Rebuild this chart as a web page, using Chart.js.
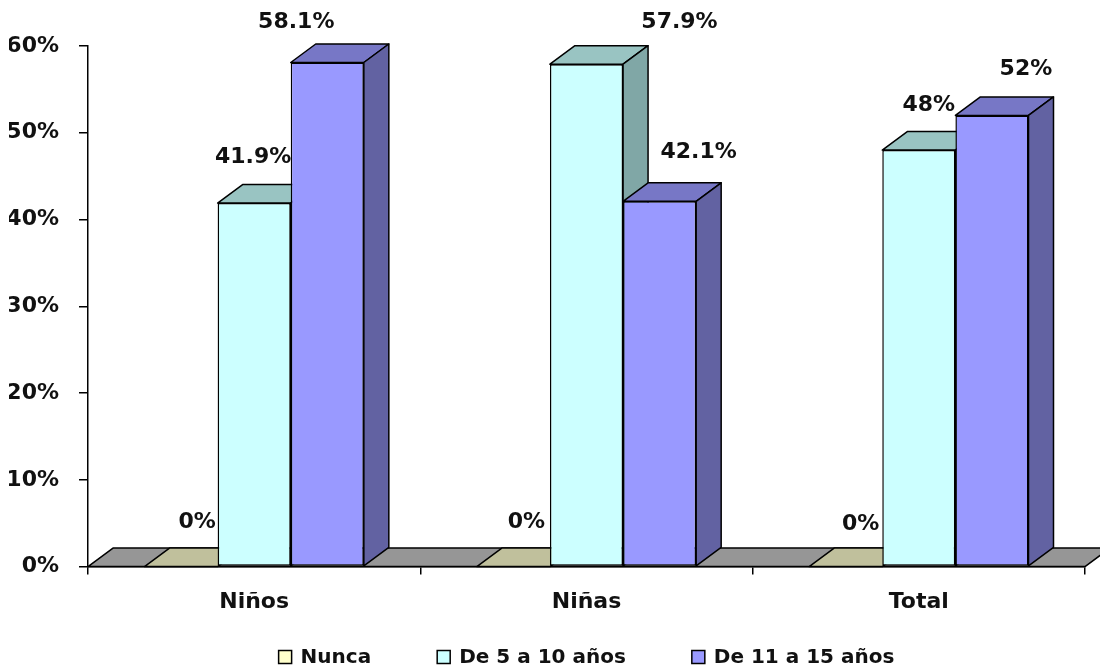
<!DOCTYPE html>
<html>
<head>
<meta charset="utf-8">
<script src="https://cdn.jsdelivr.net/npm/chart.js@4.4.0/dist/chart.umd.min.js"></script>
<style>
html, body { margin: 0; padding: 0; background: #fff; }
#wrap { width: 1100px; height: 671px; }
</style>
</head>
<body>
<div id="wrap"><canvas id="chart"></canvas></div>
<script>
var categories = ['Niños', 'Niñas', 'Total'];
var seriesNames = ['Nunca', 'De 5 a 10 años', 'De 11 a 15 años'];
var nunca = [0, 0, 0];
var de5a10 = [41.9, 57.9, 48];
var de11a15 = [58.1, 42.1, 52];
var yTicks = [0, 10, 20, 30, 40, 50, 60];

// the value labels were dragged around by hand in the original, so nudge them (dx, dy from bar top)
var labelNudge = [
    [[16, -44], [13, -44], [15, -42]],
    [[-1, -46], [93, -42], [10, -45]],
    [[-31, -40], [39, -49], [34, -46]]
];

var frontColors = ['#FFFFCC', '#CCFFFF', '#9999FF'];
var topColors = ['#C0C09C', '#99C4C2', '#7777C6'];
var sideColors = ['#9E9E80', '#80A7A6', '#6262A2'];
var floorColor = '#969696';
var depthX = 25, depthY = -18.5;
var fontFam = '"DejaVu Sans", sans-serif';

function poly(ctx, pts, fill) {
    ctx.beginPath();
    ctx.moveTo(pts[0][0], pts[0][1]);
    for (var i = 1; i < pts.length; i++) ctx.lineTo(pts[i][0], pts[i][1]);
    ctx.closePath();
    ctx.fillStyle = fill;
    ctx.fill();
    ctx.stroke();
}

var box3d = {
    id: 'box3d',
    beforeDatasetsDraw: function(chart) {
        var ctx = chart.ctx, a = chart.chartArea;
        var base = chart.scales.y.getPixelForValue(0);
        ctx.save();
        ctx.lineWidth = 1.5;
        ctx.strokeStyle = '#000';
        ctx.lineJoin = 'round';
        // floor
        poly(ctx, [[a.left, base], [a.right, base], [a.right + depthX, base + depthY], [a.left + depthX, base + depthY]], floorColor);
        for (var c = 0; c < categories.length; c++) {
            for (var d = 0; d < chart.data.datasets.length; d++) {
                var bar = chart.getDatasetMeta(d).data[c];
                var l = bar.x - bar.width / 2, r = bar.x + bar.width / 2, t = bar.y;
                poly(ctx, [[l, t], [r, t], [r + depthX, t + depthY], [l + depthX, t + depthY]], topColors[d]);
                if (bar.base - t > 1)
                    poly(ctx, [[r, t], [r, bar.base], [r + depthX, bar.base + depthY], [r + depthX, t + depthY]], sideColors[d]);
            }
        }
        ctx.restore();
    },
    afterDatasetsDraw: function(chart) {
        var ctx = chart.ctx;
        ctx.save();
        ctx.font = 'bold 22px ' + fontFam;
        ctx.fillStyle = '#111';
        ctx.textAlign = 'center';
        ctx.textBaseline = 'middle';
        chart.data.datasets.forEach(function(ds, d) {
            chart.getDatasetMeta(d).data.forEach(function(bar, c) {
                var n = labelNudge[d][c];
                ctx.fillText(ds.data[c] + '%', bar.x + n[0], bar.y + n[1]);
            });
        });
        ctx.restore();
    },
    afterDraw: function(chart) {
        // legend along the bottom, centred on the plot
        var ctx = chart.ctx, a = chart.chartArea;
        var box = 13, gap = 9, spacing = 66, y = 657;
        ctx.save();
        ctx.font = 'bold 20px ' + fontFam;
        var widths = seriesNames.map(function(s) { return box + gap + ctx.measureText(s).width; });
        var total = widths.reduce(function(p, w) { return p + w; }, 0) + spacing * (widths.length - 1);
        var x = (a.left + a.right) / 2 - total / 2;
        ctx.textBaseline = 'middle';
        ctx.lineWidth = 1.5;
        ctx.strokeStyle = '#000';
        seriesNames.forEach(function(s, i) {
            ctx.fillStyle = frontColors[i];
            ctx.fillRect(x, y - box / 2, box, box);
            ctx.strokeRect(x, y - box / 2, box, box);
            ctx.fillStyle = '#111';
            ctx.fillText(s, x + box + gap, y + 1);
            x += widths[i] + spacing;
        });
        ctx.restore();
    }
};

var allSeries = [nunca, de5a10, de11a15];

new Chart(document.getElementById('chart'), {
    type: 'bar',
    data: {
        labels: categories,
        datasets: allSeries.map(function(vals, i) {
            return {
                label: seriesNames[i],
                data: vals,
                backgroundColor: frontColors[i],
                borderColor: '#000',
                borderWidth: 1.5,
                borderSkipped: false,
                categoryPercentage: 0.66,
                barPercentage: 1
            };
        })
    },
    options: {
        responsive: true,
        maintainAspectRatio: false,
        animation: false,
        layout: { padding: { left: 9, right: 15, top: 46, bottom: 42 } },
        plugins: {
            legend: { display: false },
            tooltip: { enabled: false }
        },
        scales: {
            x: {
                offset: true,
                grid: { display: true, drawOnChartArea: false, offset: true, tickLength: 8, color: '#000', lineWidth: 1.5 },
                border: { color: '#000', width: 1.5 },
                ticks: { color: '#111', padding: 14, font: { family: fontFam, size: 22, weight: 'bold' } }
            },
            y: {
                min: 0,
                max: 60,
                afterBuildTicks: function(scale) {
                    scale.ticks = yTicks.map(function(v) { return { value: v }; });
                },
                afterFit: function(scale) { scale.width = 79; },
                grid: { drawOnChartArea: false, tickLength: 9, color: '#000', lineWidth: 1.5 },
                border: { color: '#000', width: 1.5 },
                ticks: {
                    color: '#111',
                    padding: 20,
                    font: { family: fontFam, size: 22, weight: 'bold' },
                    callback: function(v) { return v + '%'; }
                }
            }
        }
    },
    plugins: [box3d]
});
</script>
</body>
</html>
